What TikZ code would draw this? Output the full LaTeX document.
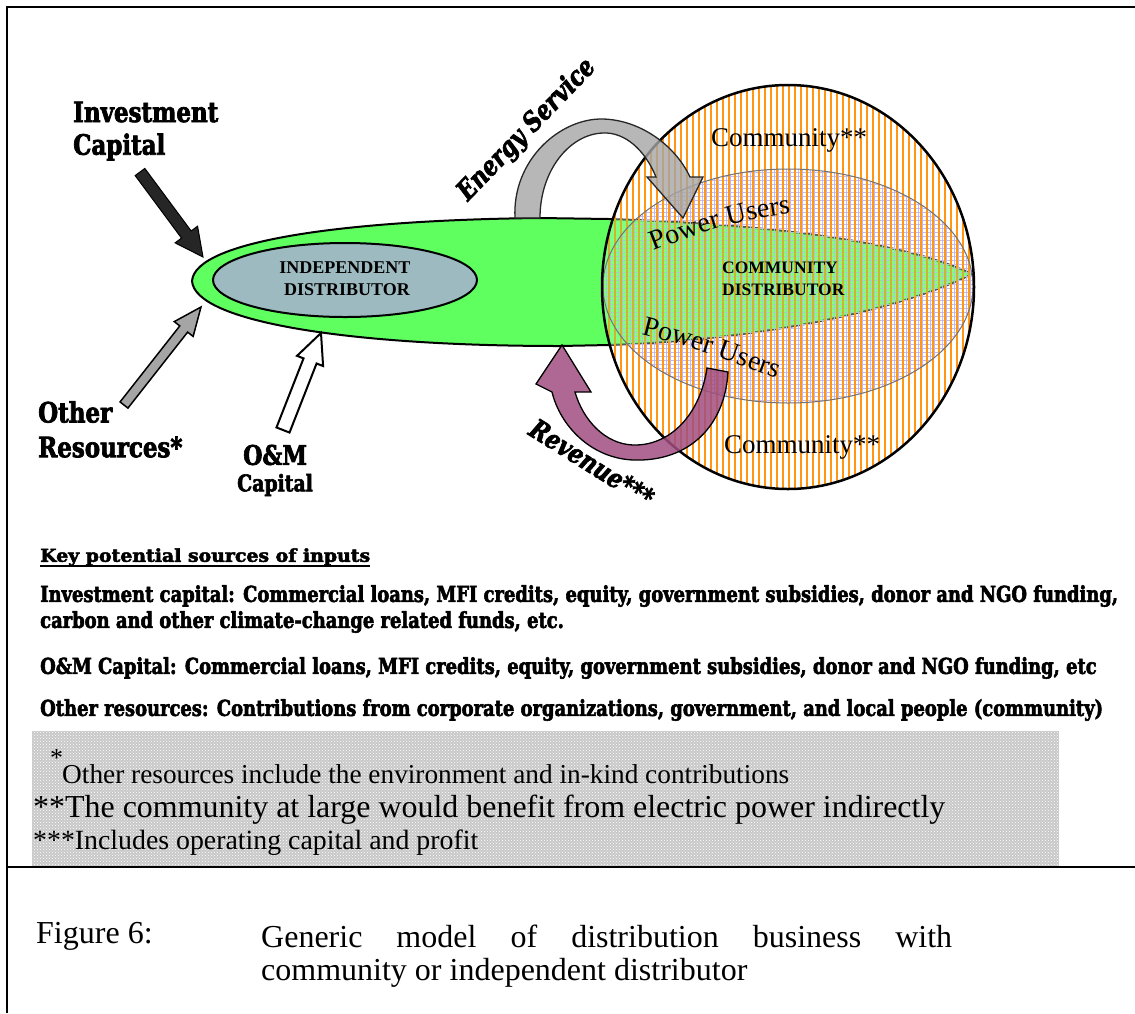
\documentclass[tikz,border=0pt]{standalone}
\usepackage{graphicx}
\usepackage{fontspec}
\setmainfont{Liberation Serif}
\newfontfamily\heavy{DejaVu Serif}[FakeStretch=0.82,FakeBold=2.5]
\usetikzlibrary{calc,patterns,decorations.text}
\definecolor{lensgreen}{RGB}{96,255,96}
\definecolor{indepgray}{RGB}{157,186,192}
\definecolor{hatchorange}{RGB}{255,150,20}
\definecolor{gridlav}{RGB}{195,185,235}
\definecolor{revpurple}{RGB}{160,78,128}
\definecolor{energygray}{RGB}{165,165,165}
\definecolor{boxgray}{RGB}{200,200,200}
\newlength\invw
\newcommand\mkarrow[6]{%
  \coordinate (hb) at ($(#3)!#6!(#2)$);
  \draw[#1] ($(#2)!#4!90:(#3)$) -- ($(hb)!#4!90:(#3)$) -- ($(hb)!#5!90:(#3)$) -- (#3)
    -- ($(hb)!#5!-90:(#3)$) -- ($(hb)!#4!-90:(#3)$) -- ($(#2)!#4!-90:(#3)$) -- cycle;}
\newcommand\pufont{\fontsize{28}{30}\selectfont}
\newcommand\bodyfont{\heavy\bfseries\fontsize{22}{26}\selectfont}
\newcommand\lenspath{(192,281) .. controls (195,240) and (350,220) .. (540,218) -- (609,219)
  .. controls (760,224) and (900,240) .. (972,274)
  .. controls (900,310) and (760,340) .. (609,345) -- (560,346)
  .. controls (350,346) and (195,322) .. (192,281) -- cycle}
\begin{document}
\settowidth\invw{\bodyfont Investment capital: Commercial loans, MFI credits, equity, government subsidies, donor and NGO funding,}%
\pgfmathsetmacro\bsx{1078/\invw}%
\begin{tikzpicture}[x=1pt,y=-1pt,
  frame/.style={line width=2pt},
  lab/.style={anchor=west, inner sep=0pt, font=\heavy\bfseries\fontsize{28}{30}\selectfont},
  body/.style={anchor=west, inner sep=0pt, font=\bodyfont},
  foot/.style={anchor=west, inner sep=0pt, font=\fontsize{26}{28}\selectfont},
  capt/.style={anchor=west, inner sep=0pt, font=\fontsize{32}{36}\selectfont},
  distlab/.style={inner sep=0pt, font=\bfseries\fontsize{18}{20}\selectfont},
  commlab/.style={inner sep=0pt, font=\fontsize{27}{30}\selectfont},
  slantlab/.style={inner sep=0pt, font=\heavy\bfseries\itshape\fontsize{27}{29}\selectfont}]
\useasboundingbox (0,0) rectangle (1135,1013);

% ---------- green lens ----------
\path[fill=lensgreen, draw=black, line width=2pt] \lenspath;
% independent distributor ellipse
\path[fill=indepgray, draw=black, line width=2pt] (345,280) ellipse [x radius=132pt, y radius=37pt];

% ---------- community ellipse ----------
\begin{scope}
  \clip (788,287) ellipse [x radius=186pt, y radius=202pt];
  \fill[white, fill opacity=0.3] (590,80) rectangle (990,500);
\end{scope}
\begin{scope}
  \clip (788,286) ellipse [x radius=185pt, y radius=117pt];
  \foreach \i in {0,...,95} \draw[gridlav, line width=0.45pt] ({602+4*\i},165) -- ++(0,245);
  \foreach \j in {0,...,61} \draw[gridlav, line width=0.45pt] (598,{168+4*\j}) -- ++(384,0);
\end{scope}
\begin{scope}
  \clip (788,287) ellipse [x radius=186pt, y radius=202pt];
  \foreach \i in {0,...,63} \draw[hatchorange, line width=1.8pt] ({603+6*\i},80) -- ++(0,420);
  \fill[lensgreen, fill opacity=0.3] \lenspath;
\end{scope}
\draw[black!55, line width=1pt] (788,286) ellipse [x radius=185pt, y radius=117pt];
\draw[black, line width=2.5pt] (788,287) ellipse [x radius=186pt, y radius=202pt];

% ---------- energy service arrow ----------
\path[fill=energygray, fill opacity=0.8, draw=black!85, line width=1.3pt]
  (515,218) .. controls (512,160) and (560,118) .. (603,119)
  .. controls (640,120) and (675,145) .. (690,177) -- (703,177) -- (683,218) -- (647,177) -- (656,177)
  .. controls (645,150) and (625,132) .. (603,133)
  .. controls (570,134) and (540,170) .. (540,218) -- cycle;

% ---------- revenue arrow ----------
\path[fill=revpurple, fill opacity=0.85, draw=black, line width=1.3pt]
  (707,368) -- (728,372) .. controls (725,425) and (690,462) .. (633,460)
  .. controls (590,458) and (560,425) .. (552,392) -- (536,384) -- (562,345) -- (591,392) -- (575,392)
  .. controls (583,420) and (605,444) .. (633,445)
  .. controls (670,446) and (700,415) .. (707,368) -- cycle;

% ---------- input arrows ----------
\coordinate (invT) at (140,172); \coordinate (invH) at (203,257);
\coordinate (othT) at (124,405); \coordinate (othH) at (201,307);
\coordinate (omT) at (283,430);  \coordinate (omH) at (321,333);
\mkarrow{fill=black!85, draw=black, line width=1pt}{invT}{invH}{6pt}{14pt}{28pt}
\mkarrow{fill=energygray, draw=black, line width=1.5pt}{othT}{othH}{5pt}{12pt}{28pt}
\mkarrow{fill=white, draw=black, line width=2pt}{omT}{omH}{7pt}{14pt}{30pt}

% ---------- diagram labels ----------
\node[lab] (inv1) at (73,112) {Investment};
\node[lab] (inv2) at (73,147) {Capital};
\node[lab] (oth1) at (38,412) {Other};
\node[lab] (oth2) at (38,447) {Resources*};
\node[lab, font=\heavy\bfseries\fontsize{27}{30}\selectfont] (om1) at (243,455) {O\&M};
\node[lab, font=\heavy\bfseries\fontsize{23}{26}\selectfont] (om2) at (237,485) {Capital};
\node[slantlab, rotate=46] (energylab) at (527,130) {Energy Service};
\node[slantlab, rotate=-32] (revlab) at (592,463) {Revenue***};

\node[distlab] (ind1) at (345,268) {INDEPENDENT};
\node[distlab] (ind2) at (347,290) {DISTRIBUTOR};
\node[distlab, anchor=west, font=\bfseries\fontsize{17.5}{20}\selectfont] (cd1) at (722,268) {COMMUNITY};
\node[distlab, anchor=west, font=\bfseries\fontsize{17.5}{20}\selectfont] (cd2) at (722,290) {DISTRIBUTOR};
\node[commlab] (commtop) at (789,140) {Community**};
\node[commlab] (commbot) at (802,447) {Community**};
\path[decorate, decoration={text along path, text={|\pufont|Power Users}, text align=center}]
  (636,258) .. controls (700,232) and (750,215) .. (810,212);
\path[decorate, decoration={text along path, text={|\pufont|Power Users}, text align=center}]
  (622,330) .. controls (680,342) and (735,362) .. (795,386);

% ---------- key text ----------
\node[body] (keyhead) at (40,557) {\resizebox{330pt}{13.5pt}{Key potential sources of inputs}};
\draw[line width=1.8pt] ([yshift=-4pt]keyhead.base west) -- ([yshift=-4pt]keyhead.base east);
\node[body] (invline1) at (40,596) {\scalebox{\bsx}[1]{Investment capital: Commercial loans, MFI credits, equity, government subsidies, donor and NGO funding,}};
\node[body] (invline2) at (40,622) {\scalebox{\bsx}[1]{carbon and other climate-change related funds, etc.}};
\node[body] (omline) at (40,668) {\scalebox{\bsx}[1]{O\&M Capital: Commercial loans, MFI credits, equity, government subsidies, donor and NGO funding, etc}};
\node[body] (othline) at (40,710) {\scalebox{\bsx}[1]{Other resources: Contributions from corporate organizations, government, and local people (community)}};

% ---------- footnote box ----------
\fill[boxgray] (32,731) rectangle (1059,867);
\fill[pattern=crosshatch dots, pattern color=white] (32,731) rectangle (1059,867);
\node[foot] (fnstar) at (50,758) {*};
\node[foot] (fn1) at (62,774) {\resizebox{727pt}{!}{Other resources include the environment and in-kind contributions}};
\node[foot] (fn2) at (33,810) {\resizebox{912pt}{!}{**The community at large would benefit from electric power indirectly}};
\node[foot] (fn3) at (33,843) {\resizebox{445pt}{!}{***Includes operating capital and profit}};

% ---------- frame ----------
\draw[frame] (6,7) -- (1135,7);
\draw[frame] (7,6) -- (7,1013);
\draw[frame] (6,867) -- (1135,867);

% ---------- caption ----------
\node[capt] (figlab) at (36,936) {Figure 6:};
\node[capt] (cap1) at (261,936) {\makebox[691pt][s]{Generic model of distribution business with}};
\node[capt] (cap2) at (261,973) {community or independent distributor};
\end{tikzpicture}
\end{document}
